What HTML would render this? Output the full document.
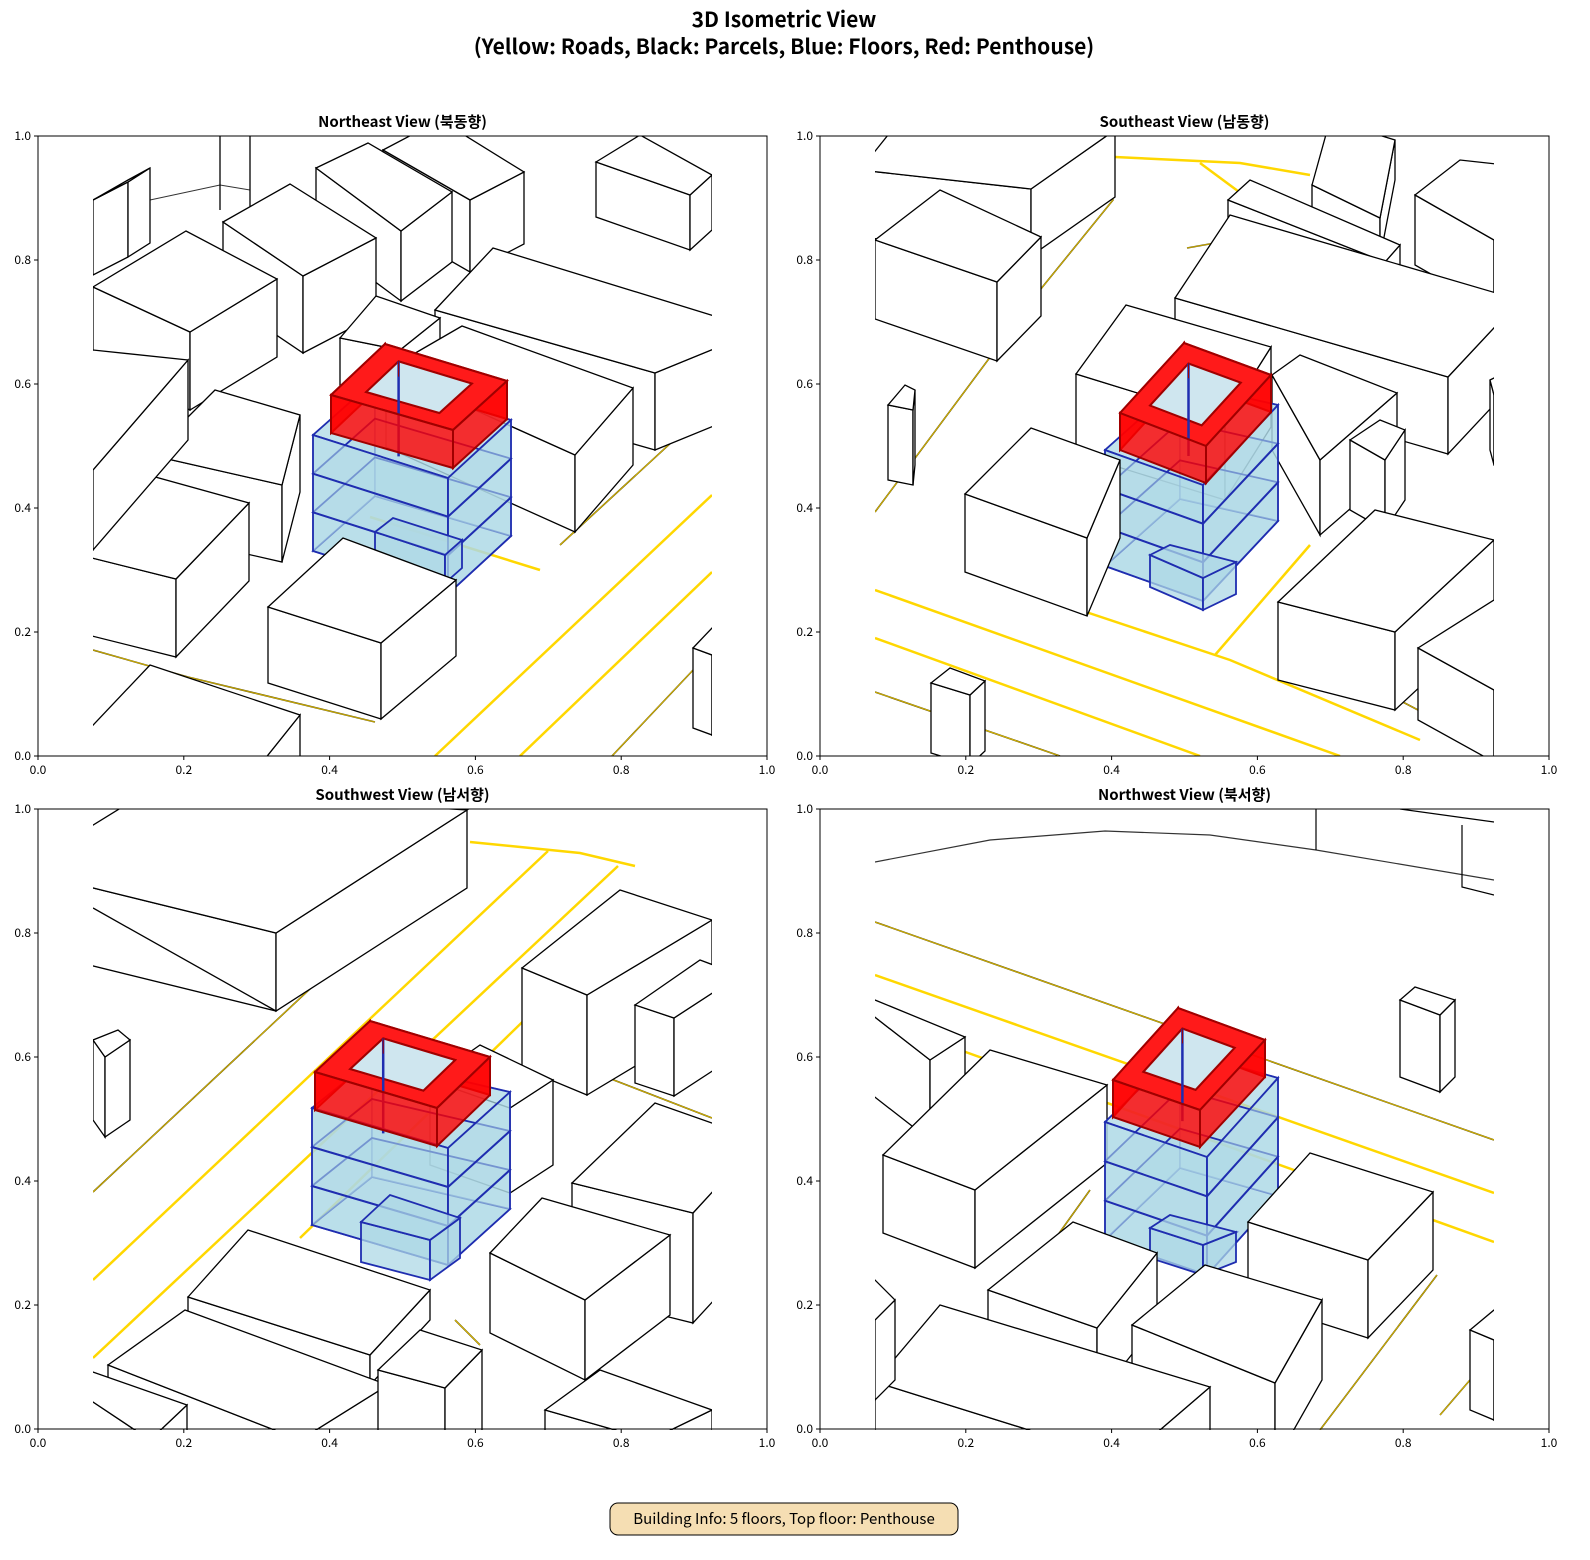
<!DOCTYPE html>
<html><head><meta charset="utf-8">
<style>
html,body{margin:0;padding:0;background:#fff;overflow:hidden;}
svg{display:block;font-family:"Noto Sans CJK KR","Liberation Sans",sans-serif;}
</style></head>
<body>
<svg id="s" width="1590" height="1560" viewBox="0 0 1590 1560" xmlns="http://www.w3.org/2000/svg">
<defs>
<clipPath id="c0"><rect x="93" y="136" width="619" height="620"/></clipPath>
<clipPath id="c1"><rect x="875" y="136" width="619" height="620"/></clipPath>
<clipPath id="c2"><rect x="93" y="809" width="619" height="621"/></clipPath>
<clipPath id="c3"><rect x="875" y="809" width="619" height="621"/></clipPath>
</defs>
<text x="784" y="27" font-size="21" font-weight="bold" text-anchor="middle">3D Isometric View</text>
<text x="784" y="54" font-size="21" font-weight="bold" text-anchor="middle">(Yellow: Roads, Black: Parcels, Blue: Floors, Red: Penthouse)</text>
<g id="p0" clip-path="url(#c0)"></g>
<g id="p1" clip-path="url(#c1)"></g>
<g id="p2" clip-path="url(#c2)"></g>
<g id="p3" clip-path="url(#c3)"></g>
<g id="axes"></g>
<rect x="610" y="1503" width="348" height="32" rx="8" fill="#f5deb3" stroke="#000" stroke-width="1"/>
<text x="784" y="1524" font-size="15" text-anchor="middle">Building Info: 5 floors, Top floor: Penthouse</text>
</svg>
<script>
const NS="http://www.w3.org/2000/svg";
function el(g,tag,attrs,txt){const e=document.createElementNS(NS,tag);for(const k in attrs)e.setAttribute(k,attrs[k]);if(txt!==undefined)e.textContent=txt;g.appendChild(e);return e;}
function P(a){return a.map(p=>p.join(',')).join(' ');}
function dn(p,h){return [p[0],p[1]+h];}
function box(g,a,b,c,d,h){
  el(g,'polygon',{points:P([a,d,dn(d,h),dn(a,h)]),fill:'#fff',stroke:'#000','stroke-width':1.3});
  el(g,'polygon',{points:P([d,c,dn(c,h),dn(d,h)]),fill:'#fff',stroke:'#000','stroke-width':1.3});
  el(g,'polygon',{points:P([a,b,c,d]),fill:'#fff',stroke:'#000','stroke-width':1.3});
}
function bbox(g,a,b,c,d,h){
  const st={fill:'#add8e6','fill-opacity':0.75,stroke:'#1f2db0','stroke-width':1.8};
  el(g,'polygon',Object.assign({points:P([a,d,dn(d,h),dn(a,h)])},st));
  el(g,'polygon',Object.assign({points:P([d,c,dn(c,h),dn(d,h)])},st));
  el(g,'polygon',Object.assign({points:P([a,b,c,d])},st));
}
function line(g,pts,col,w){el(g,'polyline',{points:P(pts),fill:'none',stroke:col,'stroke-width':w});}
function road(g,pts){line(g,pts,'#ffd700',2.5);}
function olive(g,pts){line(g,pts,'#6b5a00',1.6);line(g,pts,'#ffd700',0.6);}
function tower(g,L,B,R,F,H){
  const st={fill:'#add8e6','fill-opacity':0.6,stroke:'#1f2db0','stroke-width':1.8};
  el(g,'polygon',Object.assign({points:P([dn(L,H),dn(B,H),dn(R,H),dn(F,H)])},st));
  el(g,'polygon',Object.assign({points:P([L,B,dn(B,H),dn(L,H)])},st,{'stroke-opacity':0.4}));
  el(g,'polygon',Object.assign({points:P([B,R,dn(R,H),dn(B,H)])},st,{'stroke-opacity':0.4}));
  for(let k=0;k<3;k++){const y=H*k/3;
    el(g,'polygon',{points:P([dn(L,y),dn(B,y),dn(R,y),dn(F,y)]),fill:'#add8e6','fill-opacity':0.35,stroke:'#1f2db0','stroke-width':1.8});}
  el(g,'polygon',Object.assign({points:P([L,F,dn(F,H),dn(L,H)])},st));
  el(g,'polygon',Object.assign({points:P([F,R,dn(R,H),dn(F,H)])},st));
  for(let k=1;k<3;k++){const y=H*k/3;line(g,[dn(L,y),dn(F,y),dn(R,y)],'#1f2db0',2);}
}
function pent(g,L,B,R,F,h){
  const cx=(L[0]+B[0]+R[0]+F[0])/4,cy=(L[1]+B[1]+R[1]+F[1])/4;
  const s=0.6,I=[L,B,R,F].map(p=>[cx+(p[0]-cx)*s,cy+(p[1]-cy)*s]);
  const st={fill:'#ff0000','fill-opacity':0.8,stroke:'#a00000','stroke-width':2};
  el(g,'polygon',Object.assign({points:P([L,B,dn(B,h),dn(L,h)])},st));
  el(g,'polygon',Object.assign({points:P([B,R,dn(R,h),dn(B,h)])},st));
  el(g,'path',{d:'M'+P([L,B,R,F])+'Z M'+P([I[0],I[3],I[2],I[1]])+'Z','fill-rule':'evenodd',fill:'#ff1a1a',stroke:'#a00000','stroke-width':2});
  el(g,'polygon',{points:P(I),fill:'#cfe6ef',stroke:'#a00000','stroke-width':2});
  line(g,[I[1],dn(I[1],h*2.5)],'#1f2db0',2.5);
  line(g,[I[1],dn(I[1],h*0.4)],'#a00000',1);
  el(g,'polygon',Object.assign({points:P([L,F,dn(F,h),dn(L,h)])},st));
  el(g,'polygon',Object.assign({points:P([F,R,dn(R,h),dn(F,h)])},st));
}
const g0=document.getElementById('p0'),g1=document.getElementById('p1'),g2=document.getElementById('p2'),g3=document.getElementById('p3');
// Panel 0 NE
road(g0,[[435,756],[712,495]]);road(g0,[[520,756],[712,572]]);road(g0,[[370,517],[540,570]]);
olive(g0,[[93,650],[188,677],[375,722]]);olive(g0,[[560,545],[712,405]]);olive(g0,[[612,756],[712,650]]);
line(g0,[[150,200],[220,185],[250,190]],'#333',1);line(g0,[[220,136],[220,210]],'#000',1.3);line(g0,[[250,136],[250,210]],'#000',1.3);
box(g0,[383,150],[440,120],[524,172],[470,200],72);
box(g0,[596,162],[640,135],[712,175],[690,195],55);
box(g0,[93,200],[128,180],[150,168],[128,182],75);
box(g0,[316,168],[368,143],[452,192],[401,231],70);
box(g0,[223,222],[290,184],[376,238],[303,276],77);
box(g0,[93,287],[186,231],[277,279],[190,332],78);
box(g0,[435,310],[493,248],[760,330],[655,373],77);
box(g0,[340,338],[376,296],[440,318],[400,350],60);
box(g0,[386,370],[462,326],[633,388],[575,455],77);
box(g0,[150,455],[215,390],[300,415],[282,485],77);
box(g0,[40,545],[130,470],[249,503],[176,579],78);
box(g0,[60,760],[150,665],[300,715],[240,790],60);
box(g0,[693,648],[712,628],[740,640],[712,655],80);
box(g0,[0,440],[93,350],[188,360],[93,470],80);
tower(g0,[313,435],[375,380],[511,420],[448,478],116);
bbox(g0,[375,532],[393,518],[462,540],[445,555],28);
pent(g0,[331,395],[385,344],[507,381],[453,430],38);
box(g0,[268,607],[343,538],[456,580],[381,643],76);
// Panel 1 SE
road(g1,[[875,590],[1340,756]]);road(g1,[[875,638],[1200,756]]);olive(g1,[[875,692],[1060,756]]);
road(g1,[[1115,157],[1240,163],[1310,175]]);road(g1,[[1200,163],[1250,200]]);road(g1,[[1215,655],[1310,545]]);
olive(g1,[[875,512],[1040,290],[1113,200],[1105,180]]);olive(g1,[[1187,248],[1215,243]]);olive(g1,[[1380,690],[1494,750]]);
road(g1,[[1050,600],[1230,660],[1420,740]]);
box(g1,[860,170],[900,120],[1115,130],[1031,189],67);
box(g1,[875,240],[940,190],[1041,237],[997,282],79);
box(g1,[1312,185],[1330,120],[1395,140],[1380,218],40);
box(g1,[1228,200],[1250,180],[1400,245],[1385,262],30);
box(g1,[1415,195],[1460,160],[1550,170],[1494,240],70);
box(g1,[1175,298],[1230,215],[1520,300],[1448,377],77);
box(g1,[888,405],[905,385],[915,390],[913,410],75);
box(g1,[1076,374],[1126,305],[1271,347],[1225,420],80);
box(g1,[1272,375],[1300,355],[1397,393],[1320,460],75);
box(g1,[1350,440],[1380,420],[1405,430],[1385,460],70);
box(g1,[1490,380],[1500,375],[1560,380],[1494,395],70);
tower(g1,[1105,450],[1180,383],[1278,405],[1203,485],116);
bbox(g1,[1150,555],[1170,545],[1236,562],[1203,578],32);
pent(g1,[1120,413],[1184,343],[1271,375],[1206,446],37);
box(g1,[965,494],[1031,428],[1120,460],[1087,538],78);
box(g1,[1278,602],[1375,510],[1494,540],[1395,632],78);
box(g1,[1418,648],[1494,600],[1550,620],[1494,690],72);
box(g1,[931,683],[950,668],[985,681],[970,695],70);
// Panel 2 SW
road(g2,[[93,1280],[548,851]]);road(g2,[[93,1358],[618,866]]);road(g2,[[470,842],[580,853],[635,866]]);
olive(g2,[[93,1192],[467,842]]);road(g2,[[300,1238],[545,1000]]);olive(g2,[[523,1045],[712,1118]]);olive(g2,[[455,1320],[480,1345]]);
box(g2,[20,870],[150,790],[467,810],[276,933],78);
line(g2,[[93,908],[276,1011]],'#000',1.3);
box(g2,[93,1040],[118,1030],[130,1040],[105,1057],80);
box(g2,[522,968],[620,890],[712,920],[587,995],100);
box(g2,[635,1005],[700,960],[740,975],[674,1018],78);
box(g2,[430,1080],[480,1045],[553,1080],[510,1108],85);
tower(g2,[312,1108],[372,1060],[510,1092],[448,1148],117);
bbox(g2,[361,1222],[390,1195],[460,1218],[430,1240],40);
pent(g2,[315,1072],[370,1021],[490,1057],[437,1108],38);
box(g2,[572,1183],[655,1103],[760,1140],[693,1213],110);
box(g2,[490,1253],[542,1198],[670,1235],[585,1300],80);
box(g2,[188,1297],[248,1230],[430,1290],[370,1355],30);
box(g2,[108,1365],[185,1310],[388,1385],[300,1440],50);
box(g2,[378,1370],[420,1330],[482,1350],[445,1388],80);
box(g2,[545,1410],[600,1370],[712,1410],[650,1440],40);
box(g2,[60,1380],[93,1372],[187,1405],[150,1440],40);
// Panel 3 NW
line(g3,[[875,862],[990,840],[1105,831],[1210,835],[1316,850],[1494,880]],'#333',1.2);
line(g3,[[1316,809],[1316,850]],'#000',1.2);line(g3,[[1462,825],[1462,887],[1494,895]],'#000',1.2);
line(g3,[[1400,809],[1494,822]],'#000',1.2);
olive(g3,[[875,922],[1494,1140]]);road(g3,[[875,975],[1494,1193]]);road(g3,[[960,1050],[1494,1242]]);
olive(g3,[[1320,1430],[1437,1275]]);olive(g3,[[1440,1415],[1470,1380]]);olive(g3,[[1090,1190],[1040,1260]]);
box(g3,[840,990],[875,1000],[965,1037],[930,1060],80);
box(g3,[1400,1000],[1415,987],[1455,1000],[1440,1015],77);
box(g3,[883,1155],[990,1050],[1107,1085],[975,1190],78);
tower(g3,[1105,1122],[1180,1050],[1278,1078],[1207,1157],118);
bbox(g3,[1150,1228],[1170,1215],[1236,1232],[1203,1245],30);
pent(g3,[1113,1080],[1178,1008],[1265,1040],[1200,1110],37);
box(g3,[1248,1222],[1310,1153],[1433,1192],[1368,1260],78);
box(g3,[988,1290],[1073,1222],[1157,1253],[1097,1328],70);
box(g3,[1132,1325],[1205,1265],[1322,1300],[1275,1383],80);
box(g3,[875,1382],[940,1305],[1210,1387],[1125,1460],60);
box(g3,[1470,1330],[1494,1310],[1530,1320],[1494,1340],80);
box(g3,[840,1300],[875,1280],[895,1300],[875,1320],80);
// Axes
const ax=document.getElementById('axes');
const panels=[[38,136,'Northeast View (북동향)'],[820,136,'Southeast View (남동향)'],[38,809,'Southwest View (남서향)'],[820,809,'Northwest View (북서향)']];
for(const [x0,y0,t] of panels){
  const W=729,H=620;
  el(ax,'rect',{x:x0,y:y0,width:W,height:H,fill:'none',stroke:'#000','stroke-width':1});
  el(ax,'text',{x:x0+W/2,y:y0-9,'font-size':15,'font-weight':'bold','text-anchor':'middle'},t);
  for(let i=0;i<=5;i++){
    const v=(i*0.2).toFixed(1);
    const x=x0+W*i/5,y=y0+H-H*i/5;
    el(ax,'line',{x1:x,y1:y0+H,x2:x,y2:y0+H+4,stroke:'#000'});
    el(ax,'text',{x:x,y:y0+H+18,'font-size':12,'text-anchor':'middle'},v);
    el(ax,'line',{x1:x0-4,y1:y,x2:x0,y2:y,stroke:'#000'});
    el(ax,'text',{x:x0-7,y:y+4,'font-size':12,'text-anchor':'end'},v);
  }
}
</script>
</body></html>
